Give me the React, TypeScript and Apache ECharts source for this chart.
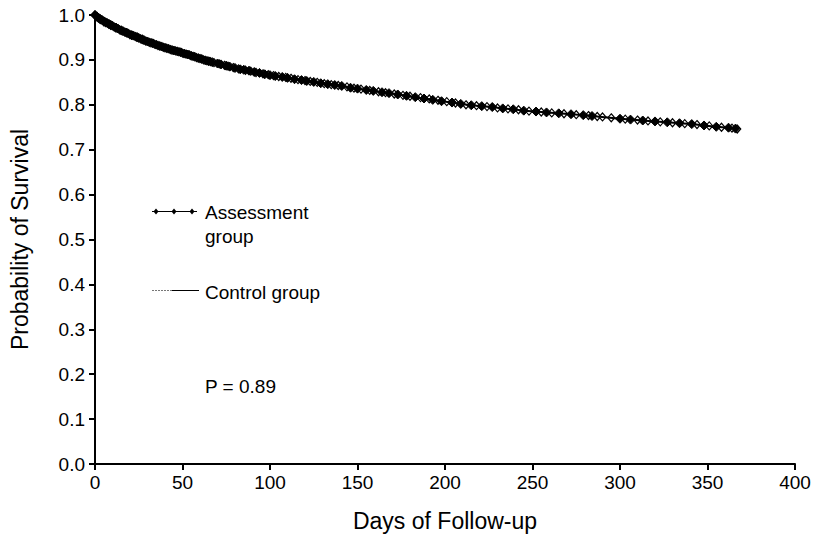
import React, { useEffect, useRef } from "react";
import * as echarts from "echarts";

const assessmentDays = [0,1,2,3,4,5,6,7,8,9,10,12,13,15,16,18,19,21,22,24,25,27,28,30,32,33,35,37,38,40,42,44,45,47,49,51,53,55,57,59,61,63,65,67,70,72,75,77,80,83,85,88,91,94,97,100,103,107,110,114,118,121,125,129,133,137,141,146,150,155,159,164,168,173,178,183,188,193,198,204,209,215,221,227,233,239,245,252,258,265,272,279,284,300,306,313,320,327,334,341,348,355,362,366];
const assessmentSurvival = [1.0,0.997,0.994,0.991,0.989,0.986,0.984,0.982,0.98,0.978,0.976,0.972,0.97,0.966,0.964,0.961,0.959,0.955,0.954,0.951,0.949,0.946,0.944,0.941,0.938,0.937,0.934,0.931,0.93,0.927,0.925,0.922,0.921,0.919,0.917,0.914,0.912,0.909,0.907,0.904,0.902,0.899,0.897,0.895,0.892,0.89,0.887,0.885,0.882,0.879,0.878,0.876,0.873,0.871,0.868,0.866,0.864,0.862,0.86,0.857,0.855,0.853,0.851,0.848,0.846,0.844,0.842,0.838,0.836,0.833,0.831,0.828,0.826,0.823,0.82,0.817,0.814,0.811,0.808,0.805,0.802,0.799,0.797,0.795,0.792,0.79,0.787,0.785,0.783,0.781,0.779,0.777,0.775,0.769,0.767,0.765,0.763,0.761,0.759,0.757,0.754,0.751,0.749,0.747];

const controlDays = [0,1,2,3,5,6,8,9,11,12,14,15,17,18,20,21,23,24,26,27,29,31,34,36,39,41,43,46,48,50,52,54,56,58,60,62,64,66,68,71,74,76,79,82,86,89,92,96,99,102,105,109,112,116,120,123,127,131,135,139,144,148,152,157,162,166,171,176,180,186,191,196,201,206,212,218,224,230,236,242,248,255,261,268,275,282,287,290,295,303,310,316,323,330,337,344,351,358,364,367];
const controlSurvival = [1.0,0.996,0.993,0.99,0.985,0.983,0.979,0.977,0.973,0.971,0.967,0.965,0.962,0.96,0.956,0.955,0.952,0.95,0.947,0.945,0.942,0.939,0.935,0.932,0.928,0.926,0.923,0.92,0.918,0.915,0.913,0.911,0.908,0.905,0.903,0.9,0.898,0.896,0.894,0.891,0.888,0.886,0.883,0.88,0.877,0.875,0.872,0.869,0.867,0.865,0.863,0.861,0.859,0.856,0.854,0.852,0.85,0.847,0.845,0.843,0.84,0.837,0.835,0.832,0.829,0.827,0.824,0.821,0.819,0.816,0.813,0.81,0.807,0.804,0.8,0.798,0.796,0.793,0.791,0.789,0.786,0.784,0.782,0.78,0.778,0.776,0.774,0.773,0.771,0.768,0.766,0.764,0.762,0.76,0.758,0.756,0.753,0.75,0.748,0.746];

const xTicks = [0, 400, 50];
const yTicks = [0, 1, 0.1];
const seriesNames = ["Assessment group", "Control group"];
const pValueText = "P = 0.89";

const FONT = "'Liberation Sans', Arial, sans-serif";

export default function App() {
  const ref = useRef<HTMLDivElement>(null);
  useEffect(() => {
    if (!ref.current) return;
    const chart = echarts.init(ref.current, null, { renderer: "svg" });
    const aData = assessmentDays.map((d, i) => [d, assessmentSurvival[i]]);
    const cData = controlDays.map((d, i) => [d, controlSurvival[i]]);
    const tickFont = { fontFamily: FONT, fontSize: 19, color: "#000" };
    chart.setOption({
      animation: false,
      backgroundColor: "#fff",
      grid: { left: 95, right: 19, top: 15, bottom: 76, containLabel: false },
      xAxis: {
        type: "value",
        min: xTicks[0],
        max: xTicks[1],
        interval: xTicks[2],
        name: "Days of Follow-up",
        nameLocation: "middle",
        nameGap: 45,
        nameTextStyle: { fontFamily: FONT, fontSize: 23, color: "#000" },
        axisLine: { onZero: false, lineStyle: { color: "#000", width: 2 } },
        axisTick: { show: true, length: 6, lineStyle: { color: "#000", width: 2 } },
        axisLabel: { ...tickFont, margin: 9 },
        splitLine: { show: false },
      },
      yAxis: {
        type: "value",
        min: yTicks[0],
        max: yTicks[1],
        interval: yTicks[2],
        name: "Probability of Survival",
        nameLocation: "middle",
        nameGap: 64,
        nameTextStyle: { fontFamily: FONT, fontSize: 23, color: "#000" },
        axisLine: { show: true, onZero: false, lineStyle: { color: "#000", width: 2 } },
        axisTick: { show: true, length: 6, lineStyle: { color: "#000", width: 2 } },
        axisLabel: { ...tickFont, margin: 10, formatter: (v: number) => v.toFixed(1) },
        splitLine: { show: false },
      },
      series: [
        {
          name: seriesNames[1],
          type: "line",
          data: cData,
          symbol: "diamond",
          symbolSize: [7, 8],
          showAllSymbol: true,
          lineStyle: { color: "#000", width: 1 },
          itemStyle: { color: "#fff", borderColor: "#000", borderWidth: 1.2 },
          z: 2,
        },
        {
          name: seriesNames[0],
          type: "line",
          data: aData,
          symbol: "diamond",
          symbolSize: [9, 9],
          showAllSymbol: true,
          lineStyle: { color: "#000", width: 2 },
          itemStyle: { color: "#000", borderColor: "#000", borderWidth: 1 },
          z: 3,
        },
      ],
      graphic: [
        { type: "line", shape: { x1: 152, y1: 211.5, x2: 197, y2: 211.5 }, style: { stroke: "#000", lineWidth: 1 } },
        { type: "polygon", shape: { points: [[156, 208.5], [158.5, 211.5], [156, 214.5], [153.5, 211.5]] }, style: { fill: "#000" } },
        { type: "polygon", shape: { points: [[174, 208.5], [176.5, 211.5], [174, 214.5], [171.5, 211.5]] }, style: { fill: "#000" } },
        { type: "polygon", shape: { points: [[192, 208.5], [194.5, 211.5], [192, 214.5], [189.5, 211.5]] }, style: { fill: "#000" } },
        { type: "text", x: 205, y: 212, style: { text: "Assessment", font: `19px ${FONT}`, fill: "#000", verticalAlign: "middle" } },
        { type: "text", x: 205, y: 236, style: { text: "group", font: `19px ${FONT}`, fill: "#000", verticalAlign: "middle" } },
        { type: "line", shape: { x1: 152, y1: 290.5, x2: 172, y2: 290.5 }, style: { stroke: "#777", lineWidth: 1, lineDash: [2, 1] } },
        { type: "line", shape: { x1: 172, y1: 290.5, x2: 199, y2: 290.5 }, style: { stroke: "#000", lineWidth: 1 } },
        { type: "text", x: 205, y: 292, style: { text: "Control group", font: `19px ${FONT}`, fill: "#000", verticalAlign: "middle" } },
        { type: "text", x: 205, y: 386, style: { text: pValueText, font: `19px ${FONT}`, fill: "#000", verticalAlign: "middle" } },
      ],
    });
    return () => chart.dispose();
  }, []);
  return <div ref={ref} style={{ width: 814, height: 540, position: "absolute", left: 0, top: 0 }} />;
}
